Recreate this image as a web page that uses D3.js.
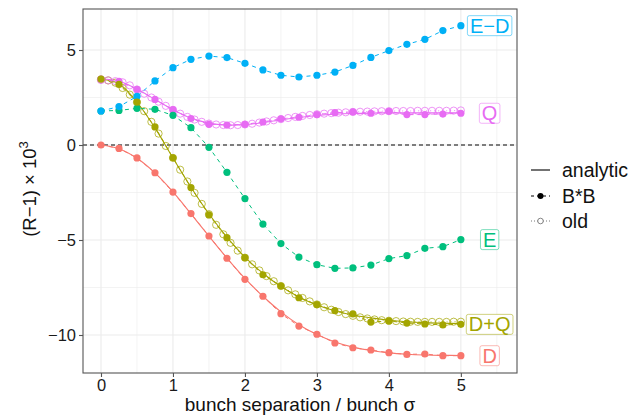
<head>
    <style>
        body { margin: 0; background: white; }
        svg { font-family: "Liberation Sans", Arial, sans-serif; }
        .grid line { stroke: #ebebeb; }
        .tick text { fill: #1a1a1a; }
    </style>
</head>
<body>
    <script src="https://cdn.jsdelivr.net/npm/d3@7"></script>
    <div id="chart"></div>
    <script>
        // x positions of the B*B runs and of the old runs
        let xBB = [0, 0.25, 0.5, 0.75, 1, 1.25, 1.5, 1.75, 2, 2.25, 2.5, 2.75, 3, 3.25, 3.5, 3.75, 4, 4.25, 4.5, 4.75, 5];
        let xOld = [0, 0.1, 0.2, 0.3, 0.4, 0.5, 0.6, 0.7, 0.8, 0.9, 1, 1.1, 1.2, 1.3, 1.4, 1.5, 1.6, 1.7, 1.8, 1.9,
                    2, 2.1, 2.2, 2.3, 2.4, 2.5, 2.6, 2.7, 2.8, 2.9, 3, 3.1, 3.2, 3.3, 3.4, 3.5, 3.6, 3.7, 3.8, 3.9,
                    4, 4.1, 4.2, 4.3, 4.4, 4.5, 4.6, 4.7, 4.8, 4.9, 5];

        let names = ["D", "D+Q", "E", "E\u2212D", "Q"];
        let colors = ["#F8766D", "#A3A500", "#00BF7D", "#00B0F6", "#E76BF3"];

        // B*B values (R-1)*1e3
        let bbD  = [0, -0.18, -0.68, -1.46, -2.48, -3.61, -4.79, -5.96, -7.07, -7.96, -8.88, -9.53, -9.96, -10.42, -10.67, -10.79, -10.93, -11.02, -11.0, -11.09, -11.09];
        let bbDQ = [3.47, 3.19, 2.26, 0.95, -0.67, -2.24, -3.68, -4.88, -5.93, -6.83, -7.42, -8.04, -8.4, -8.72, -8.89, -9.32, -9.26, -9.37, -9.42, -9.47, -9.44];
        let bbE  = [1.79, 1.82, 1.93, 1.88, 1.56, 0.91, -0.12, -1.44, -2.82, -4.16, -5.19, -5.9, -6.3, -6.49, -6.47, -6.32, -5.98, -5.82, -5.44, -5.35, -4.98];
        let bbED = [1.79, 2.02, 2.56, 3.37, 4.07, 4.51, 4.68, 4.6, 4.3, 3.95, 3.67, 3.58, 3.67, 3.84, 4.19, 4.61, 4.97, 5.3, 5.56, 6.02, 6.28];
        let bbQ  = [3.47, 3.35, 2.93, 2.4, 1.86, 1.39, 1.09, 1.05, 1.09, 1.21, 1.38, 1.46, 1.6, 1.7, 1.74, 1.67, 1.77, 1.6, 1.6, 1.63, 1.67];

        // analytic curves, same x as B*B
        let anD  = [0, -0.2, -0.7, -1.47, -2.47, -3.62, -4.8, -5.95, -7.02, -7.96, -8.78, -9.46, -9.98, -10.37, -10.64, -10.82, -10.94, -11.01, -11.05, -11.07, -11.08];
        let anDQ = [3.46, 3.22, 2.25, 0.9, -0.68, -2.22, -3.62, -4.85, -5.9, -6.75, -7.45, -8.0, -8.42, -8.72, -8.95, -9.1, -9.22, -9.3, -9.35, -9.38, -9.4];
        let anQ  = [3.47, 3.36, 2.95, 2.4, 1.86, 1.42, 1.15, 1.05, 1.07, 1.18, 1.32, 1.45, 1.55, 1.62, 1.66, 1.68, 1.69, 1.69, 1.69, 1.69, 1.69];

        // old calculation
        let oldDQ = [3.45, 3.4, 3.28, 3.0, 2.65, 2.25, 1.78, 1.22, 0.6, -0.05, -0.68, -1.3, -1.92, -2.52, -3.1, -3.64, -4.2, -4.7, -5.15, -5.56, -5.93,
                     -6.28, -6.6, -6.9, -7.17, -7.42, -7.65, -7.86, -8.05, -8.23, -8.39, -8.54, -8.67, -8.79, -8.9, -8.99, -9.07, -9.13, -9.18, -9.22,
                     -9.25, -9.27, -9.29, -9.3, -9.31, -9.31, -9.31, -9.31, -9.31, -9.3, -9.3];
        let oldQ  = [3.42, 3.4, 3.36, 3.3, 3.14, 2.92, 2.7, 2.5, 2.28, 2.06, 1.85, 1.65, 1.48, 1.34, 1.22, 1.13, 1.08, 1.05, 1.04, 1.05, 1.08,
                     1.12, 1.18, 1.24, 1.3, 1.36, 1.42, 1.48, 1.53, 1.58, 1.62, 1.65, 1.68, 1.7, 1.72, 1.74, 1.75, 1.76, 1.77, 1.78,
                     1.78, 1.79, 1.79, 1.79, 1.8, 1.8, 1.8, 1.8, 1.8, 1.81, 1.82];

        let xTicks = [0, 1, 2, 3, 4, 5];
        let yTicks = [-10, -5, 0, 5];
        let xMinor = [0.5, 1.5, 2.5, 3.5, 4.5, 5.5];
        let yMinor = [-7.5, -2.5, 2.5];
        let legendLabels = ["analytic", "B*B", "old"];
        let labelX = 5.4;

        let w = 642, h = 419;
        let pL = 83, pR = 517, pT = 9, pB = 373; // panel edges

        let x = d3.scaleLinear().domain([-0.25, 5.78]).range([pL, pR]);
        let y = d3.scaleLinear().domain([7.158, -12.0]).range([pT, pB]);

        let vis = d3.select("#chart").append("svg")
            .attr("width", w)
            .attr("height", h);

        // grid
        let grid = vis.append("g").attr("class", "grid");
        grid.selectAll(".xm").data(xMinor).enter().append("line")
            .attr("x1", d => x(d)).attr("x2", d => x(d)).attr("y1", pT).attr("y2", pB)
            .attr("stroke-width", 0.6);
        grid.selectAll(".ym").data(yMinor).enter().append("line")
            .attr("x1", pL).attr("x2", pR).attr("y1", d => y(d)).attr("y2", d => y(d))
            .attr("stroke-width", 0.6);
        grid.selectAll(".xM").data(xTicks).enter().append("line")
            .attr("x1", d => x(d)).attr("x2", d => x(d)).attr("y1", pT).attr("y2", pB)
            .attr("stroke-width", 1.1);
        grid.selectAll(".yM").data(yTicks).enter().append("line")
            .attr("x1", pL).attr("x2", pR).attr("y1", d => y(d)).attr("y2", d => y(d))
            .attr("stroke-width", 1.1);

        // zero line
        vis.append("line")
            .attr("x1", pL).attr("x2", pR)
            .attr("y1", y(0)).attr("y2", y(0))
            .attr("stroke", "#555").attr("stroke-width", 1.3)
            .attr("stroke-dasharray", "4,3");

        let line = d3.line().x(d => x(d[0])).y(d => y(d[1]));
        let smooth = d3.line().curve(d3.curveCatmullRom).x(d => x(d[0])).y(d => y(d[1]));
        function pairs(xs, ys) { return xs.map((v, i) => [v, ys[i]]); }

        let plot = vis.append("g");

        // analytic (solid)
        let analytic = [[anD, 0], [anDQ, 1], [anQ, 4]];
        analytic.forEach(function(a) {
            plot.append("path")
                .attr("d", smooth(pairs(xBB, a[0])))
                .attr("fill", "none")
                .attr("stroke", colors[a[1]])
                .attr("stroke-width", 1.1);
        });

        // old (dotted + open circles)
        let old = [[oldDQ, 1], [oldQ, 4]];
        old.forEach(function(o) {
            plot.append("path")
                .attr("d", line(pairs(xOld, o[0])))
                .attr("fill", "none")
                .attr("stroke", colors[o[1]])
                .attr("stroke-width", 0.8)
                .attr("stroke-dasharray", "1,3");
            plot.selectAll(null).data(pairs(xOld, o[0])).enter().append("circle")
                .attr("cx", d => x(d[0])).attr("cy", d => y(d[1]))
                .attr("r", 3.6)
                .attr("fill", "none")
                .attr("stroke", colors[o[1]])
                .attr("stroke-opacity", 0.8)
                .attr("stroke-width", 0.9);
        });

        // B*B (dashed + filled points)
        let bb = [[bbQ, 4], [bbD, 0], [bbE, 2], [bbED, 3], [bbDQ, 1]];
        bb.forEach(function(b) {
            plot.append("path")
                .attr("d", line(pairs(xBB, b[0])))
                .attr("fill", "none")
                .attr("stroke", colors[b[1]])
                .attr("stroke-width", 1)
                .attr("stroke-dasharray", "4,4");
        });
        bb.forEach(function(b) {
            plot.selectAll(null).data(pairs(xBB, b[0])).enter().append("circle")
                .attr("cx", d => x(d[0])).attr("cy", d => y(d[1]))
                .attr("r", 3.6)
                .attr("fill", colors[b[1]]);
        });

        // end labels
        let lastVals = [bbD, bbDQ, bbE, bbED, bbQ].map(s => s[s.length - 1]);
        names.forEach(function(n, i) {
            let g = vis.append("g");
            let t = g.append("text")
                .attr("x", x(labelX)).attr("y", y(lastVals[i]) + 7)
                .attr("text-anchor", "middle")
                .attr("font-size", 20)
                .attr("fill", colors[i])
                .text(n);
            let bw = t.node().getBBox().width;
            g.insert("rect", "text")
                .attr("x", x(labelX) - bw / 2 - 2.5)
                .attr("y", y(lastVals[i]) - 10)
                .attr("width", bw + 5)
                .attr("height", 20)
                .attr("rx", 2)
                .attr("fill", "white")
                .attr("stroke", colors[i])
                .attr("stroke-opacity", 0.5)
                .attr("stroke-width", 1);
        });

        // panel border
        vis.append("rect")
            .attr("x", pL).attr("y", pT)
            .attr("width", pR - pL).attr("height", pB - pT)
            .attr("fill", "none").attr("stroke", "#555").attr("stroke-width", 1.1);

        // axes
        let xAxis = vis.append("g")
            .attr("transform", "translate(0," + pB + ")")
            .call(d3.axisBottom(x).tickValues(xTicks).tickSize(4).tickPadding(2)
                  .tickFormat(d3.format("d")));
        let yAxis = vis.append("g")
            .attr("transform", "translate(" + pL + ",0)")
            .call(d3.axisLeft(y).tickValues(yTicks).tickSize(4).tickPadding(3)
                  .tickFormat(d => d < 0 ? "\u2212" + Math.abs(d) : d));
        [xAxis, yAxis].forEach(function(a) {
            a.select(".domain").remove();
            a.selectAll(".tick line").attr("stroke", "#555").attr("stroke-width", 1.1);
            a.selectAll(".tick text").attr("font-size", 16.5).attr("font-family", "Liberation Sans, Arial, sans-serif");
        });

        // titles
        vis.append("text")
            .attr("x", 300).attr("y", 411)
            .attr("text-anchor", "middle")
            .attr("font-size", 19)
            .attr("fill", "#111")
            .text("bunch separation / bunch \u03c3");

        let yt = vis.append("text")
            .attr("transform", "translate(36,189) rotate(-90)")
            .attr("text-anchor", "middle")
            .attr("font-size", 18.5)
            .attr("fill", "#111");
        yt.append("tspan").text("(R\u22121) \u00d7 10");
        yt.append("tspan").attr("dy", -8).attr("font-size", 13).text("3");

        // legend
        let lg = vis.append("g");
        let rows = [170, 196, 221];
        lg.append("line").attr("x1", 531).attr("x2", 550).attr("y1", rows[0]).attr("y2", rows[0])
            .attr("stroke", "black").attr("stroke-width", 1.1);
        lg.append("line").attr("x1", 531).attr("x2", 550).attr("y1", rows[1]).attr("y2", rows[1])
            .attr("stroke", "black").attr("stroke-width", 1).attr("stroke-dasharray", "3,3");
        lg.append("circle").attr("cx", 540.5).attr("cy", rows[1]).attr("r", 3).attr("fill", "black");
        lg.append("line").attr("x1", 531).attr("x2", 550).attr("y1", rows[2]).attr("y2", rows[2])
            .attr("stroke", "#555").attr("stroke-width", 0.8).attr("stroke-dasharray", "1,2");
        lg.append("circle").attr("cx", 540.5).attr("cy", rows[2]).attr("r", 2.8)
            .attr("fill", "white").attr("stroke", "#666").attr("stroke-width", 0.8);
        lg.selectAll("text").data(legendLabels).enter().append("text")
            .attr("x", 562).attr("y", (d, i) => rows[i] + 7)
            .attr("font-size", 19.5)
            .attr("fill", "#111")
            .text(d => d);
    </script>
</body>
